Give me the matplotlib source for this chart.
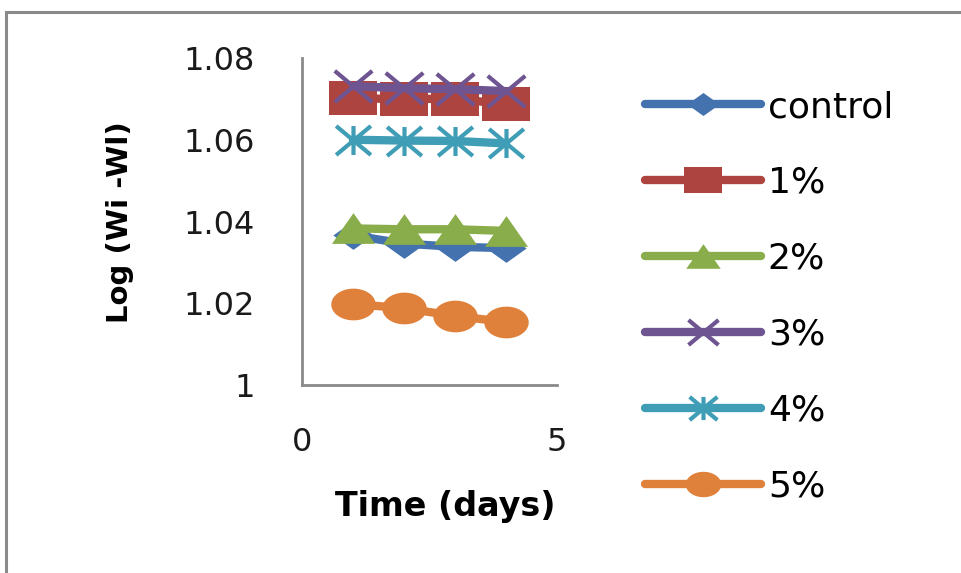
import numpy as np
import matplotlib
matplotlib.use("Agg")
import matplotlib.pyplot as plt
from matplotlib.path import Path
from matplotlib.patches import Rectangle

days = [1, 2, 3, 4]
series_names = ["control", "1%", "2%", "3%", "4%", "5%"]
control = [1.0366, 1.0346, 1.0338, 1.0335]
pct1 = [1.0701, 1.0700, 1.0700, 1.0687]
pct2 = [1.0383, 1.0381, 1.0381, 1.0377]
pct3 = [1.0731, 1.0726, 1.0724, 1.0719]
pct4 = [1.0600, 1.0598, 1.0597, 1.0591]
pct5 = [1.0198, 1.0188, 1.0169, 1.0154]
x_ticks = [0, 5]
y_ticks = [1.00, 1.02, 1.04, 1.06, 1.08]
y_ticklabels = ["1", "1.02", "1.04", "1.06", "1.08"]

colors = ["#4372AE", "#AE4440", "#8AAD4B", "#6E5592", "#3F9DB5", "#E0813B"]

sx = 1.4
def closed(verts):
    verts = list(verts) + [verts[0]]
    codes = [Path.MOVETO] + [Path.LINETO] * (len(verts) - 2) + [Path.CLOSEPOLY]
    return Path(verts, codes)

diamond = closed([(0, 1), (sx, 0), (0, -1), (-sx, 0)])
square = closed([(-sx, -1), (sx, -1), (sx, 1), (-sx, 1)])
triangle = closed([(0, 1), (sx, -1), (-sx, -1)])
th = np.linspace(0, 2 * np.pi, 60)
circle = closed(list(zip(sx * np.cos(th[:-1]), np.sin(th[:-1]))))
sxx = 1.2
xmark = Path([(-sxx, -1), (sxx, 1), (-sxx, 1), (sxx, -1)],
             [Path.MOVETO, Path.LINETO, Path.MOVETO, Path.LINETO])
star = Path([(-sxx, -1), (sxx, 1), (-sxx, 1), (sxx, -1), (0, 1), (0, -1)],
            [Path.MOVETO, Path.LINETO, Path.MOVETO, Path.LINETO, Path.MOVETO, Path.LINETO])

markers = [diamond, square, triangle, xmark, star, circle]
msizes = [29, 34, 31, 27, 25, 32]
mews = [0, 0, 0, 3, 3, 0]
data = [control, pct1, pct2, pct3, pct4, pct5]

fig = plt.figure(figsize=(9.62, 5.73), dpi=100)
fig.patches.append(Rectangle((6 / 962, -0.1), 1.2, 1 - 12 / 573 + 0.1,
                             transform=fig.transFigure, fill=False,
                             edgecolor="#8a8a8a", linewidth=2.2))

ax = fig.add_axes([302 / 962, 1 - 385 / 573, 255 / 962, 327 / 573])
for name, vals, c, m, ms, mew in zip(series_names, data, colors, markers, msizes, mews):
    ax.plot(days, vals, color=c, lw=6, marker=m, markersize=ms,
            markerfacecolor=c, markeredgecolor=c, markeredgewidth=mew,
            label=name, solid_capstyle="round")

ax.set_xlim(0, 5)
ax.set_ylim(1.0, 1.08)
ax.set_xticks(x_ticks)
ax.set_xticklabels([str(t) for t in x_ticks])
ax.set_yticks(y_ticks)
ax.set_yticklabels(y_ticklabels)
ax.tick_params(axis="both", length=0, labelsize=23, colors="#1a1a1a")
ax.tick_params(axis="y", pad=34)
ax.tick_params(axis="x", pad=30)
for s in ["top", "right"]:
    ax.spines[s].set_visible(False)
for s in ["left", "bottom"]:
    ax.spines[s].set_color("#8a8a8a")
    ax.spines[s].set_linewidth(2)

ax.set_xlabel("Time (days)", fontsize=24, fontweight="bold")
ax.xaxis.set_label_coords(0.561, -0.32)
ax.set_ylabel("Log (Wi -Wl)", fontsize=21, fontweight="bold")
ax.yaxis.set_label_coords(-0.66, 0.498)

leg = fig.legend(loc="upper left", bbox_to_anchor=(645 / 962, 1 - 90 / 573),
                 frameon=False, fontsize=26, handlelength=3.2, handletextpad=0.2,
                 labelspacing=1.16, markerscale=0.8, borderaxespad=0, borderpad=0)

fig.savefig("out.png", dpi=100)
